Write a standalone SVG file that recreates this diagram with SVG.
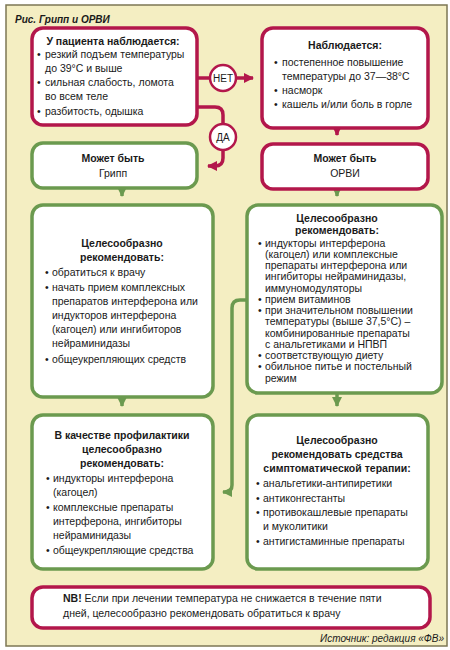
<svg xmlns="http://www.w3.org/2000/svg" width="450" height="650" viewBox="0 0 450 650">
<style>
text{font-family:"Liberation Sans",Arial,sans-serif;fill:#1a1a1a}
.t{font-size:10.5px}
.s{font-size:10.5px}
.b{font-weight:bold}
.c{text-anchor:middle}
.red{fill:#fff;stroke:#b3174b;stroke-width:3.5}
.grn{fill:#fff;stroke:#6b9a4f;stroke-width:3.5}
.lr{fill:none;stroke:#b3174b;stroke-width:3.5}
.lg{fill:none;stroke:#6b9a4f;stroke-width:3.5}
</style>
<defs>
<marker id="ar" markerUnits="userSpaceOnUse" markerWidth="12" markerHeight="12" refX="9" refY="6" orient="auto"><path d="M0,1 L10,6 L0,11 Z" fill="#b3174b"/></marker>
<marker id="ag" markerUnits="userSpaceOnUse" markerWidth="12" markerHeight="12" refX="9" refY="6" orient="auto"><path d="M0,1 L10,6 L0,11 Z" fill="#6b9a4f"/></marker>
</defs>
<rect x="0" y="0" width="450" height="650" fill="#fff"/>
<rect x="6" y="5" width="441" height="641" fill="#f4eec2" stroke="#7c7754" stroke-width="1.5"/>
<text x="15" y="23" font-size="10" font-weight="bold" font-style="italic">Рис. Грипп и ОРВИ</text>

<g id="connectors">
<path class="lr" d="M197,78 H253" marker-end="url(#ar)"/>
<path class="lr" d="M197,107 H215 Q223,107 223,115 V158 Q223,166 215,166 H208" marker-end="url(#ar)"/>
<path class="lr" d="M337,128 V135" marker-end="url(#ar)"/>
<path class="lg" d="M122,188 V196" marker-end="url(#ag)"/>
<path class="lg" d="M337,189 V196" marker-end="url(#ag)"/>
<path class="lg" d="M122,397 V406" marker-end="url(#ag)"/>
<path class="lg" d="M337,393 V406" marker-end="url(#ag)"/>
<path class="lg" d="M247,300 H240 Q232,300 232,308 V485 Q232,492 225,492 H223" marker-end="url(#ag)"/>
<g id="net"><circle cx="223" cy="78" r="13" fill="#fff" stroke="#b3174b" stroke-width="2.5"/><text x="223" y="82" class="c" font-size="10">НЕТ</text></g>
<g id="da"><circle cx="223" cy="137" r="13" fill="#fff" stroke="#b3174b" stroke-width="2.5"/><text x="223" y="141" class="c" font-size="10">ДА</text></g>
</g>

<g id="patient">
<rect class="red" x="32" y="28" width="165" height="97" rx="11"/>
<text x="113" y="45" class="t b c">У пациента наблюдается:</text>
<text class="t"><tspan x="37" y="58">•</tspan><tspan x="45" y="58">резкий подъем температуры</tspan><tspan x="45" y="72">до 39°С и выше</tspan><tspan x="37" y="86">•</tspan><tspan x="45" y="86">сильная слабость, ломота</tspan><tspan x="45" y="100">во всем теле</tspan><tspan x="37" y="115">•</tspan><tspan x="45" y="115">разбитость, одышка</tspan></text>
</g>

<g id="observed">
<rect class="red" x="262" y="28" width="166" height="100" rx="11"/>
<text x="345" y="49" class="t b c">Наблюдается:</text>
<text class="t"><tspan x="274" y="66">•</tspan><tspan x="282" y="66">постепенное повышение</tspan><tspan x="282" y="80">температуры до 37—38°С</tspan><tspan x="274" y="94">•</tspan><tspan x="282" y="94">насморк</tspan><tspan x="274" y="108">•</tspan><tspan x="282" y="108">кашель и/или боль в горле</tspan></text>
</g>

<g id="flu">
<rect class="grn" x="32" y="143" width="165" height="45" rx="11"/>
<text x="113" y="162" class="t b c">Может быть</text>
<text x="113" y="177" class="t c">Грипп</text>
</g>

<g id="orvi">
<rect class="red" x="262" y="144" width="166" height="45" rx="11"/>
<text x="345" y="162" class="t b c">Может быть</text>
<text x="345" y="177" class="t c">ОРВИ</text>
</g>

<g id="flu-rec">
<rect class="grn" x="32" y="205" width="181" height="192" rx="11"/>
<text x="122" y="247" class="t b c">Целесообразно</text>
<text x="122" y="261" class="t b c">рекомендовать:</text>
<text class="t"><tspan x="45" y="276">•</tspan><tspan x="52" y="276">обратиться к врачу</tspan><tspan x="45" y="291">•</tspan><tspan x="52" y="291">начать прием комплексных</tspan><tspan x="52" y="305">препаратов интерферона или</tspan><tspan x="52" y="319">индукторов интерферона</tspan><tspan x="52" y="333">(кагоцел) или  ингибиторов</tspan><tspan x="52" y="347">нейраминидазы</tspan><tspan x="45" y="363">•</tspan><tspan x="52" y="363">общеукрепляющих средств</tspan></text>
</g>

<g id="orvi-rec">
<rect class="grn" x="247" y="205" width="195" height="188" rx="11"/>
<text x="337" y="222" class="s b c">Целесообразно</text>
<text x="337" y="234" class="s b c">рекомендовать:</text>
<text class="s"><tspan x="258" y="246.5">•</tspan><tspan x="265" y="246.5">индукторы интерферона</tspan><tspan x="265" y="257.8">(кагоцел) или комплексные</tspan><tspan x="265" y="269">препараты интерферона или</tspan><tspan x="265" y="280.3">ингибиторы нейраминидазы,</tspan><tspan x="265" y="291.5">иммуномодуляторы</tspan><tspan x="258" y="302.8">•</tspan><tspan x="265" y="302.8">прием витаминов</tspan><tspan x="258" y="314">•</tspan><tspan x="265" y="314">при значительном повышении</tspan><tspan x="265" y="325.3">температуры (выше 37,5°С) –</tspan><tspan x="265" y="336.5">комбинированные препараты</tspan><tspan x="265" y="347.8">с анальгетиками и НПВП</tspan><tspan x="258" y="359">•</tspan><tspan x="265" y="359">соответствующую диету</tspan><tspan x="258" y="370.3">•</tspan><tspan x="265" y="370.3">обильное питье и постельный</tspan><tspan x="265" y="381.5">режим</tspan></text>
</g>

<g id="prophylaxis">
<rect class="grn" x="32" y="415" width="181" height="154" rx="11"/>
<text x="122" y="439" class="t b c">В качестве профилактики</text>
<text x="122" y="453" class="t b c">целесообразно</text>
<text x="122" y="467" class="t b c">рекомендовать:</text>
<text class="t"><tspan x="46" y="482">•</tspan><tspan x="53" y="482">индукторы интерферона</tspan><tspan x="53" y="496">(кагоцел)</tspan><tspan x="46" y="511">•</tspan><tspan x="53" y="511">комплексные препараты</tspan><tspan x="53" y="525">интерферона, ингибиторы</tspan><tspan x="53" y="539">нейраминидазы</tspan><tspan x="46" y="554">•</tspan><tspan x="53" y="554">общеукрепляющие средства</tspan></text>
</g>

<g id="symptomatic">
<rect class="grn" x="247" y="415" width="181" height="154" rx="11"/>
<text x="337" y="444" class="t b c">Целесообразно</text>
<text x="337" y="458" class="t b c">рекомендовать средства</text>
<text x="337" y="472" class="t b c">симптоматической терапии:</text>
<text class="t"><tspan x="256" y="487">•</tspan><tspan x="263" y="487">анальгетики-антипиретики</tspan><tspan x="256" y="502">•</tspan><tspan x="263" y="502">антиконгестанты</tspan><tspan x="256" y="516">•</tspan><tspan x="263" y="516">противокашлевые препараты</tspan><tspan x="263" y="530">и муколитики</tspan><tspan x="256" y="545">•</tspan><tspan x="263" y="545">антигистаминные препараты</tspan></text>
</g>

<g id="nb">
<rect class="red" x="32" y="587" width="398" height="41" rx="11"/>
<text class="t" x="63" y="602"><tspan font-weight="bold">NB!</tspan> Если при лечении температура не снижается в течение пяти</text>
<text class="t" x="63" y="617">дней, целесообразно рекомендовать обратиться к врачу</text>
</g>

<text x="444" y="642" font-size="10" font-style="italic" text-anchor="end">Источник: редакция «ФВ»</text>
</svg>
